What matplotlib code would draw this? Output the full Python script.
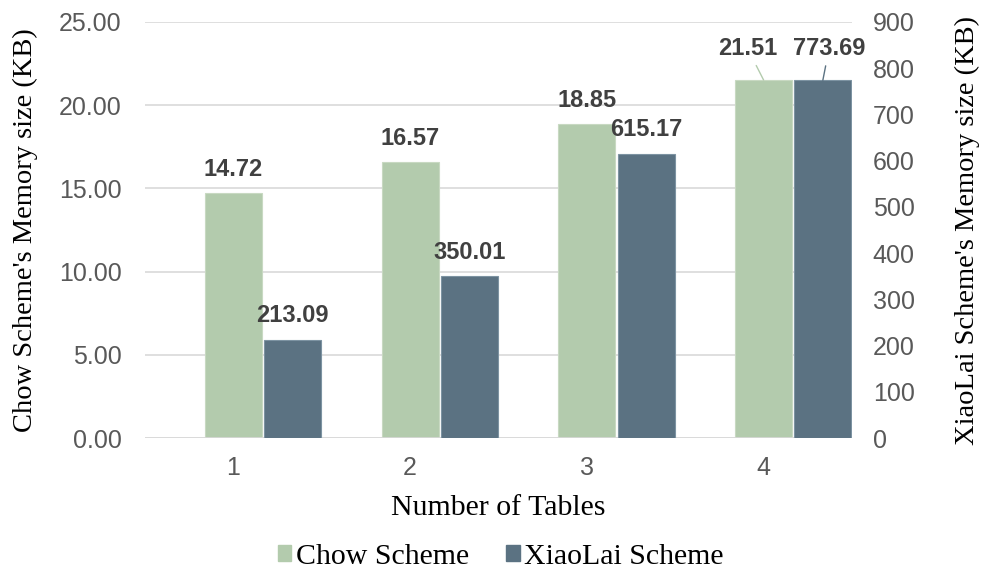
import matplotlib
matplotlib.use("Agg")
import matplotlib.pyplot as plt
import numpy as np

# memory size per number of tables
tables = ["1", "2", "3", "4"]
chow_kb = [14.72, 16.57, 18.85, 21.51]
xiaolai_kb = [213.09, 350.01, 615.17, 773.69]

CHOW_COLOR = "#b3cbad"
XL_COLOR = "#5b7282"
SERIF = "Liberation Serif"
SANS = "Liberation Sans"

fig = plt.figure(figsize=(9.82, 5.74), dpi=100)
ax = fig.add_axes([0.1477, 0.2369, 0.7199, 0.7248])
ax2 = ax.twinx()

x = np.arange(1, len(tables) + 1)
width = 0.322
offset = 0.335

ax.bar(x, chow_kb, width, color=CHOW_COLOR, edgecolor="#c8d9c2", linewidth=0.8, zorder=3)
ax2.bar(x + offset, xiaolai_kb, width, color=XL_COLOR, edgecolor="#7d93a2", linewidth=0.8, zorder=3)

ax.set_xlim(0.5, 4.5)
ax.set_ylim(0, 25)
ax2.set_ylim(0, 900)
ax.set_xticks(x)
ax.set_xticklabels(tables)
ax.set_yticks(np.arange(0, 26, 5))
ax.set_yticklabels([f"{v:.2f}" for v in np.arange(0, 26, 5)])
ax2.set_yticks(np.arange(0, 901, 100))

for a in (ax, ax2):
    for s in a.spines.values():
        s.set_visible(False)
    a.tick_params(length=0, labelsize=18, labelcolor="#595959")
    for lbl in a.get_xticklabels() + a.get_yticklabels():
        lbl.set_fontfamily(SANS)
ax.tick_params(axis="y", pad=17)
ax.tick_params(axis="x", pad=13)
ax2.tick_params(axis="y", pad=15)

ax.grid(axis="y", color="#d9d9d9", linewidth=1.2, zorder=0)
ax.set_axisbelow(True)
ax.axhline(0, color="#d9d9d9", linewidth=1.2, zorder=4)

ax.set_ylabel("Chow Scheme's Memory size (KB)", fontfamily=SERIF, fontsize=20.5, labelpad=15)
ax2.set_ylabel("XiaoLai Scheme's Memory size (KB)", fontfamily=SERIF, fontsize=20.5,
               rotation=90, labelpad=29)
ax.set_xlabel("Number of Tables", fontfamily=SERIF, fontsize=21.5, labelpad=11)

lab_kw = dict(ha="center", va="bottom", fontsize=17, fontweight="bold",
              color="#404040", fontfamily=SANS)
for i in range(3):
    ax.annotate(f"{chow_kb[i]:.2f}", (x[i], chow_kb[i]), xytext=(0, 9),
                textcoords="offset points", **lab_kw)
    ax2.annotate(f"{xiaolai_kb[i]:.2f}", (x[i] + offset, xiaolai_kb[i]), xytext=(0, 9),
                 textcoords="offset points", **lab_kw)

# last group: labels lifted above the bars with leader lines
ax.annotate(f"{chow_kb[3]:.2f}", (x[3], chow_kb[3]), xytext=(3.91, 22.7),
            textcoords="data", zorder=5,
            arrowprops=dict(arrowstyle="-", color="#b3cbad", lw=1, shrinkA=2, shrinkB=0),
            **lab_kw)
ax2.annotate(f"{xiaolai_kb[3]:.2f}", (x[3] + offset, xiaolai_kb[3]), xytext=(4.37, 817),
             textcoords="data", zorder=5,
             arrowprops=dict(arrowstyle="-", color=XL_COLOR, lw=1, shrinkA=2, shrinkB=0),
             **lab_kw)

handles = [plt.Rectangle((0, 0), 1, 1, color=CHOW_COLOR),
           plt.Rectangle((0, 0), 1, 1, color=XL_COLOR)]
fig.legend(handles, ["Chow Scheme", "XiaoLai Scheme"], loc="center",
           bbox_to_anchor=(0.51, 0.03), ncol=2, frameon=False,
           prop={"family": SERIF, "size": 21.5}, handlelength=0.45, handleheight=0.45,
           handletextpad=0.15, columnspacing=1.25)

fig.savefig("out.png", dpi=100)
